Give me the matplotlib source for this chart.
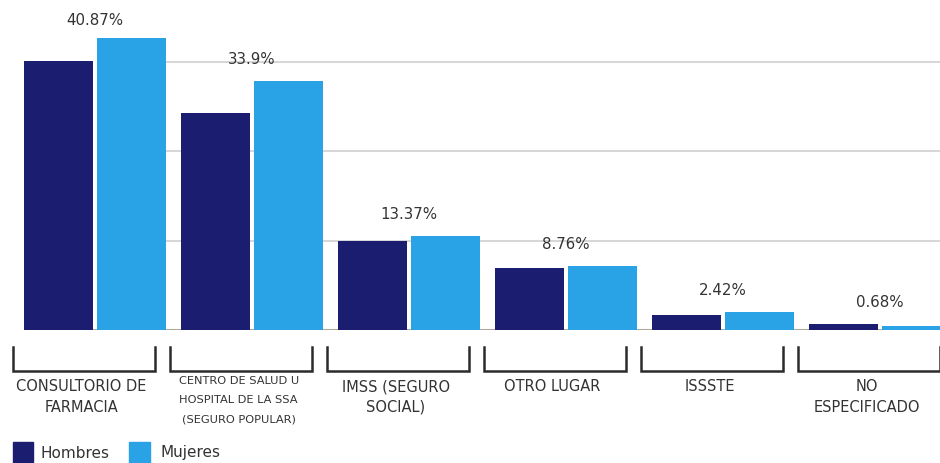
import matplotlib
matplotlib.use('Agg')
import matplotlib.pyplot as plt
import matplotlib.transforms as mtransforms
from matplotlib.patches import Rectangle
import numpy as np

plt.rcParams['font.family'] = ['DejaVu Sans']

# Data (grid lines at 10, 20, 30)
categories = ['CONSULTORIO DE\nFARMACIA',
              'CENTRO DE SALUD U\nHOSPITAL DE LA SSA\n(SEGURO POPULAR)',
              'IMSS (SEGURO\nSOCIAL)',
              'OTRO LUGAR',
              'ISSSTE',
              'NO\nESPECIFICADO']
hombres = [30.1, 24.3, 10.0, 6.9, 1.7, 0.7]
mujeres = [32.7, 27.9, 10.5, 7.2, 2.0, 0.45]
totals = ['40.87%', '33.9%', '13.37%', '8.76%', '2.42%', '0.68%']

navy = '#1b1e70'
light = '#2aa3e6'
text_col = '#333333'

fig = plt.figure(figsize=(9.40, 4.63), dpi=100)
ax = fig.add_axes([0, 133 / 463, 1, 330 / 463])

x = np.arange(len(categories))
w = 0.44
off = 0.2325
ax.bar(x - off, hombres, w, color=navy, zorder=3)
ax.bar(x + off, mujeres, w, color=light, zorder=3)

ax.set_xlim(-95 / 157, 845 / 157)
ax.set_ylim(0, 36.95)

# grid lines start after the first group
ax.hlines([10, 20, 30], off + w / 2, 6, color='#cfcfcf', lw=1.2, zorder=1)
ax.hlines(0, -off - w / 2, 6, color='#b0a89a', lw=1.5, zorder=2)

for i, t in enumerate(totals):
    top = max(hombres[i], mujeres[i])
    dy = 7 if i == 0 else 10
    ax.annotate(t, (x[i], top), xytext=(0, dy), textcoords='offset points',
                ha='center', va='bottom', fontsize=10.8, color=text_col)

for s in ax.spines.values():
    s.set_visible(False)
ax.set_xticks([])
ax.set_yticks([])

# brackets under each group
trans = mtransforms.blended_transform_factory(ax.transData, fig.transFigure)
y_top = 1 - 347 / 463
y_bot = 1 - 371 / 463
for i, cat in enumerate(categories):
    xl = x[i] - 0.522
    xr = x[i] + 0.38
    ax.plot([xl, xl, xr, xr], [y_top, y_bot, y_bot, y_top], transform=trans,
            color='#2b2b2b', lw=1.8, clip_on=False, solid_joinstyle='miter')
    small = cat.count('\n') == 2
    ax.text(x[i] - 0.085, 1 - (376 if small else 379) / 463, cat, transform=trans,
            ha='center', va='top',
            fontsize=8.2 if small else 10.5, color=text_col,
            linespacing=2.15 if small else 1.5)

# legend at the bottom
fig.patches.append(Rectangle((13 / 940, 0), 20 / 940, 21 / 463, transform=fig.transFigure,
                             color=navy))
fig.text(40 / 940, 10 / 463, 'Hombres', ha='left', va='center', fontsize=11, color=text_col)
fig.patches.append(Rectangle((129 / 940, 0), 21 / 940, 21 / 463, transform=fig.transFigure,
                             color=light))
fig.text(160 / 940, 10 / 463, 'Mujeres', ha='left', va='center', fontsize=11, color=text_col)

fig.savefig('out.png', dpi=100, facecolor='white')
